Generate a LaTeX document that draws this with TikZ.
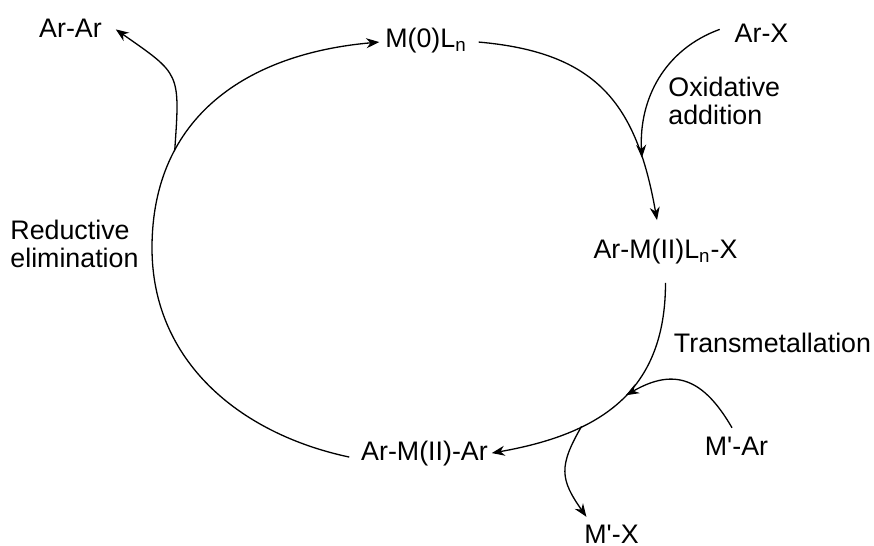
\documentclass[tikz,border=0pt]{standalone}
\usepackage{fontspec}
\setmainfont{Liberation Sans}
\usetikzlibrary{arrows.meta}
\begin{document}
\begin{tikzpicture}[x=0.5pt,y=-0.5pt,
  lbl/.style={font=\fontsize{13.4}{13.75}\selectfont, inner sep=2pt, outer sep=0pt, anchor=base},
  txt/.style={font=\fontsize{13.4}{13.75}\selectfont, inner sep=0pt, align=left, anchor=west},
  conn/.style={line width=0.65pt},
  arr/.style={conn, -{Stealth[length=6.5pt,width=5pt]}}]
\useasboundingbox (0,0) rectangle (874,546);
% species
\node[lbl] (ArAr) at (70.5,37) {Ar-Ar};
\node[lbl] (M0) at (426,47) {M(0)L\textsubscript{n}};
\node[lbl] (ArX) at (761.5,42) {Ar-X};
\node[lbl] (ArMX) at (665.5,258) {Ar-M(II)L\textsubscript{n}-X};
\node[lbl] (ArMAr) at (424.5,460) {Ar-M(II)-Ar};
\node[lbl] (MAr) at (736.5,455) {M\textquotesingle-Ar};
\node[lbl] (MX) at (611.5,543) {M\textquotesingle-X};
% step labels
\node[lbl] (trans) at (772.5,352) {Transmetallation};
\node[txt] (oxid) at (668,101) {Oxidative\\addition};
\node[txt] (red) at (10,244) {Reductive\\elimination};
% cycle (junction points are taken on the arcs)
\coordinate (lft) at (152,248);
\draw[arr] ([xshift=-4pt,yshift=-2pt]ArMAr.west) to[out=168,in=-90] (lft)
  to[out=90,in=185,looseness=1.1] coordinate[pos=0.29] (rej) ([xshift=-1pt,yshift=-1pt]M0.west);
\draw[arr] ([xshift=4pt,yshift=-1pt]M0.east) to[out=-5,in=100,looseness=1.2] coordinate[pos=0.8] (oaj)
  ([xshift=-4.25pt,yshift=7.25pt]ArMX.north);
\draw[arr] ([yshift=-7.65pt]ArMX.south) to[out=-90,in=10,looseness=1.15]
  coordinate[pos=0.46] (tmj) coordinate[pos=0.68] (mxj) (ArMAr.east);
% side arrows
\draw[arr] ([xshift=-5.5pt,yshift=1.7pt]ArX.west) to[out=200,in=93] (oaj);
\draw[arr] (rej) to[out=86,in=-35,looseness=1.5] ([xshift=5pt,yshift=-0.8pt]ArAr.east);
\draw[arr] ([xshift=-2.25pt,yshift=2.4pt]MAr.north) to[out=120,in=30,looseness=1.3] (tmj);
\draw[arr] (mxj) to[out=240,in=125,looseness=1.3] ([xshift=3pt,yshift=1.9pt]MX.north west);
\end{tikzpicture}
\end{document}
